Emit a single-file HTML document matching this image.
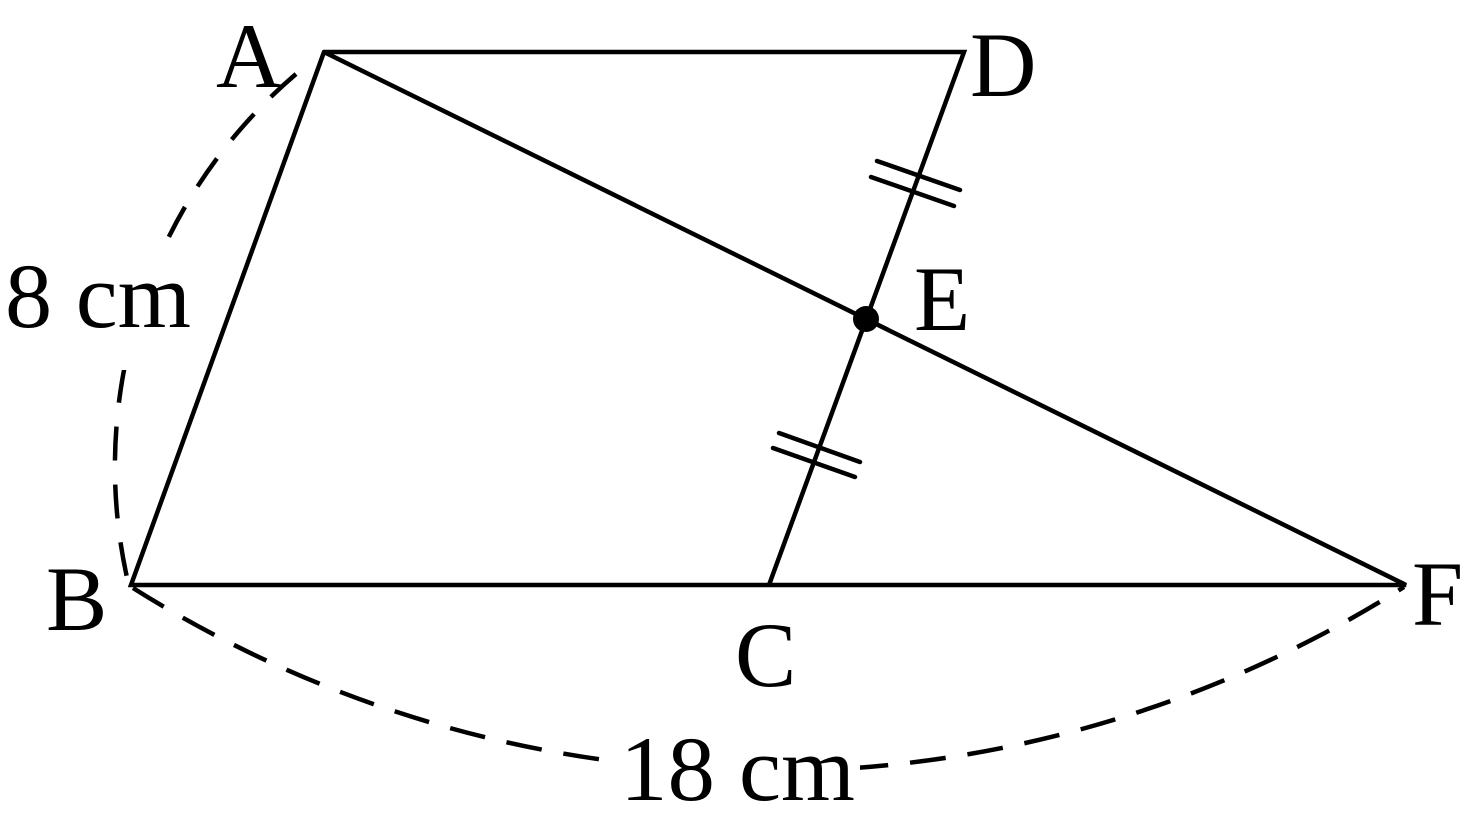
<!DOCTYPE html>
<html><head><style>body{margin:0;background:#fff}svg{display:block}</style></head><body>
<svg width="1478" height="831" viewBox="0 0 1478 831" xmlns="http://www.w3.org/2000/svg">
<g stroke="#000" stroke-width="4.5" fill="none" stroke-linecap="round">
<path d="M324,52 L964,52 L769,585 M324,52 L131,585 L1406,585 L324,52"/>
<path d="M877,161 L960,190 M871,177 L954,206 M779,433 L860,462 M773,448 L855,477"/>
<path d="M296,74 A516,516 0 0 0 128,582" stroke-dasharray="34,24" stroke-linecap="butt"/>
<path d="M133,588 A1191,1191 0 0 0 1404,587" stroke-dasharray="36,22" stroke-linecap="butt"/>
</g>
<circle cx="866" cy="319" r="13" fill="#000"/>
<rect x="605" y="735" width="255" height="85" fill="#fff"/>
<rect x="0" y="245" width="198" height="125" fill="#fff"/>
<g font-family="Liberation Serif, serif" font-size="92" fill="#000">
<text x="216" y="87">A</text>
<text x="970" y="96">D</text>
<text x="914" y="330">E</text>
<text x="46" y="630">B</text>
<text x="735" y="686">C</text>
<text x="1412" y="625">F</text>
<text x="5" y="327" textLength="186" lengthAdjust="spacingAndGlyphs">8 cm</text>
<text x="620" y="800" textLength="235" lengthAdjust="spacingAndGlyphs">18 cm</text>
</g>
</svg>
</body></html>
